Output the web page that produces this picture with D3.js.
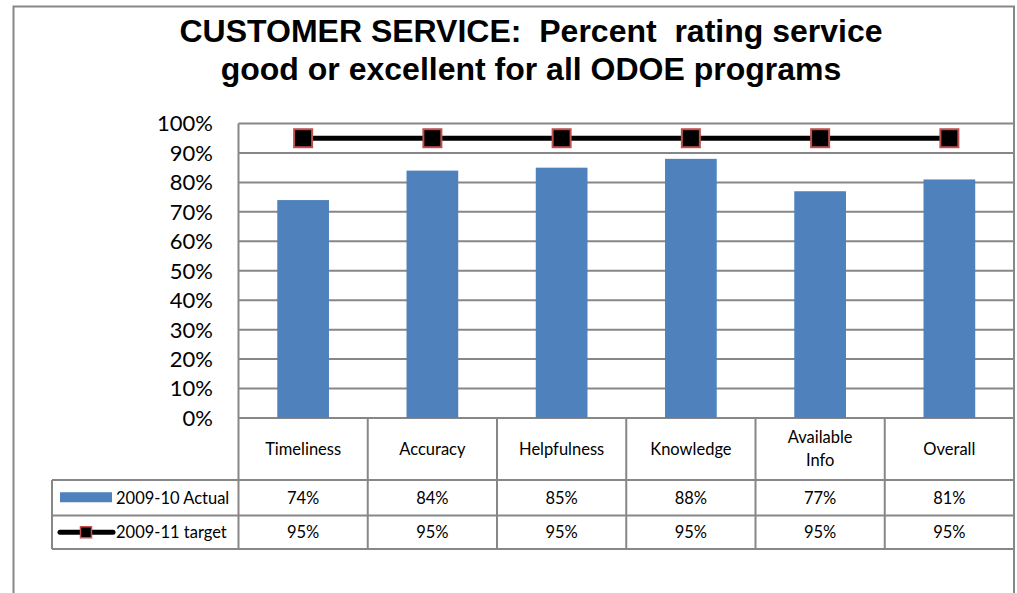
<!doctype html>
<html>
<head>
<meta charset="utf-8">
<title>Customer service</title>
<script src="https://d3js.org/d3.v7.min.js"></script>
<style type="text/css">
	body { margin: 0; background: #fff; }
	.title { font-family: "Liberation Sans", Arial, sans-serif; font-weight: bold; font-size: 32px; }
	.ylab { font-family: Lato, "Open Sans", sans-serif; font-size: 22px; }
	.cell { font-family: Lato, "Open Sans", sans-serif; font-size: 16.5px; }
</style>
</head>
<body>
<script>
	var w = 1017;
	var h = 593;

	// data
	var categories = ["Timeliness", "Accuracy", "Helpfulness", "Knowledge", "Available Info", "Overall"];
	var actual = [74, 84, 85, 88, 77, 81];
	var target = [95, 95, 95, 95, 95, 95];
	var yTicks = [0, 10, 20, 30, 40, 50, 60, 70, 80, 90, 100];
	var seriesNames = ["2009-10 Actual", "2009-11 target"];
	var titleLines = ["CUSTOMER SERVICE:  Percent  rating service", "good or excellent for all ODOE programs"];

	var grid = "#878787";
	var barColor = "#4f81bd";
	var markerStroke = "#c0504d";

	var svg = d3.select("body")
				.append("svg")
				.attr("width", w)
				.attr("height", h);

	// outer chart frame
	svg.append("rect")
		.attr("x", 13.5).attr("y", 6.5)
		.attr("width", 1000.5).attr("height", 620)
		.attr("fill", "#fff")
		.attr("stroke", grid)
		.attr("stroke-width", 2);

	var plotL = 238.5, plotR = 1014, plotT = 123.5, plotB = 418;
	var headRow = 480, row1 = 515.5, row2 = 549;
	var legLeft = 52;

	var xScale = d3.scaleBand().domain(categories).range([plotL, plotR]).padding(0);
	var yScale = d3.scaleLinear().domain([0, 100]).range([plotB, plotT]);

	// title
	svg.append("g").selectAll("text")
		.data(titleLines)
		.enter()
		.append("text")
		.attr("class", "title")
		.attr("x", 531)
		.attr("y", function(d, i) { return 42 + i * 38; })
		.attr("text-anchor", "middle")
		.style("white-space", "pre")
		.text(function(d) { return d; });

	// gridlines
	svg.append("g").selectAll("line")
		.data(yTicks)
		.enter()
		.append("line")
		.attr("x1", plotL).attr("x2", plotR)
		.attr("y1", function(d) { return yScale(d); })
		.attr("y2", function(d) { return yScale(d); })
		.attr("stroke", grid)
		.attr("stroke-width", 2);

	// y labels
	svg.append("g").selectAll("text")
		.data(yTicks)
		.enter()
		.append("text")
		.attr("class", "ylab")
		.attr("x", 213)
		.attr("y", function(d) { return yScale(d); })
		.attr("dy", "0.36em")
		.attr("text-anchor", "end")
		.text(function(d) { return d + "%"; });

	// bars
	var barW = xScale.bandwidth() * 0.4;
	svg.append("g").selectAll("rect")
		.data(actual)
		.enter()
		.append("rect")
		.attr("x", function(d, i) { return xScale(categories[i]) + (xScale.bandwidth() - barW) / 2; })
		.attr("y", function(d) { return yScale(d); })
		.attr("width", barW)
		.attr("height", function(d) { return plotB - yScale(d); })
		.attr("fill", barColor);

	// target line + markers
	var line = d3.line()
		.x(function(d, i) { return xScale(categories[i]) + xScale.bandwidth() / 2; })
		.y(function(d) { return yScale(d); });

	svg.append("path")
		.datum(target)
		.attr("d", line)
		.attr("fill", "none")
		.attr("stroke", "#000")
		.attr("stroke-width", 5);

	svg.append("g").selectAll("rect")
		.data(target)
		.enter()
		.append("rect")
		.attr("x", function(d, i) { return xScale(categories[i]) + xScale.bandwidth() / 2 - 9; })
		.attr("y", function(d) { return yScale(d) - 9; })
		.attr("width", 18).attr("height", 18)
		.attr("fill", "#000")
		.attr("stroke", markerStroke)
		.attr("stroke-width", 2);

	// data table lines
	var tbl = svg.append("g").attr("stroke", grid).attr("stroke-width", 2);
	tbl.append("line").attr("x1", plotL).attr("x2", plotL).attr("y1", plotT).attr("y2", row2);
	tbl.append("line").attr("x1", plotR).attr("x2", plotR).attr("y1", plotT).attr("y2", row2);
	tbl.append("line").attr("x1", legLeft).attr("x2", legLeft).attr("y1", headRow).attr("y2", row2);
	tbl.append("line").attr("x1", legLeft).attr("x2", plotR).attr("y1", headRow).attr("y2", headRow);
	tbl.append("line").attr("x1", legLeft).attr("x2", plotR).attr("y1", row1).attr("y2", row1);
	tbl.append("line").attr("x1", legLeft).attr("x2", plotR).attr("y1", row2).attr("y2", row2);
	tbl.selectAll(".col")
		.data(categories.slice(1))
		.enter()
		.append("line")
		.attr("x1", function(d) { return xScale(d); })
		.attr("x2", function(d) { return xScale(d); })
		.attr("y1", plotB).attr("y2", row2);

	// category headers
	var heads = svg.append("g").selectAll("text")
		.data(categories)
		.enter()
		.append("text")
		.attr("class", "cell")
		.attr("text-anchor", "middle")
		.attr("x", function(d) { return xScale(d) + xScale.bandwidth() / 2; })
		.attr("y", (plotB + headRow) / 2)
		.attr("dy", "0.35em")
		.text(function(d) { return d; });

	// wrap labels that are too wide for the header cell
	heads.each(function(d) {
		var t = d3.select(this);
		if (this.getComputedTextLength() > 92 && d.indexOf(" ") > 0) {
			var parts = d.split(" ");
			var cx = t.attr("x");
			t.text(null).attr("dy", null);
			parts.forEach(function(p, k) {
				t.append("tspan").attr("x", cx)
					.attr("y", (plotB + headRow) / 2 + (k - (parts.length - 1) / 2) * 23)
					.attr("dy", "0.35em")
					.text(p);
			});
		}
	});

	// values
	[actual, target].forEach(function(vals, r) {
		svg.append("g").selectAll("text")
			.data(vals)
			.enter()
			.append("text")
			.attr("class", "cell")
			.attr("text-anchor", "middle")
			.attr("x", function(d, i) { return xScale(categories[i]) + xScale.bandwidth() / 2; })
			.attr("y", r == 0 ? (headRow + row1) / 2 : (row1 + row2) / 2)
			.attr("dy", "0.35em")
			.text(function(d) { return d + "%"; });
	});

	// legend keys
	var ly1 = (headRow + row1) / 2, ly2 = (row1 + row2) / 2;
	svg.append("rect")
		.attr("x", 60).attr("y", ly1 - 5.5)
		.attr("width", 52).attr("height", 10)
		.attr("fill", barColor);
	svg.append("line")
		.attr("x1", 60).attr("x2", 113)
		.attr("y1", ly2).attr("y2", ly2)
		.attr("stroke", "#000").attr("stroke-width", 5)
		.attr("stroke-linecap", "round");
	svg.append("rect")
		.attr("x", 80.5).attr("y", ly2 - 5.5)
		.attr("width", 11).attr("height", 11)
		.attr("fill", "#000")
		.attr("stroke", markerStroke)
		.attr("stroke-width", 1.5);

	svg.append("g").selectAll("text")
		.data(seriesNames)
		.enter()
		.append("text")
		.attr("class", "cell")
		.attr("x", 116)
		.attr("y", function(d, i) { return i == 0 ? ly1 : ly2; })
		.attr("dy", "0.35em")
		.text(function(d) { return d; });
</script>
</body>
</html>
